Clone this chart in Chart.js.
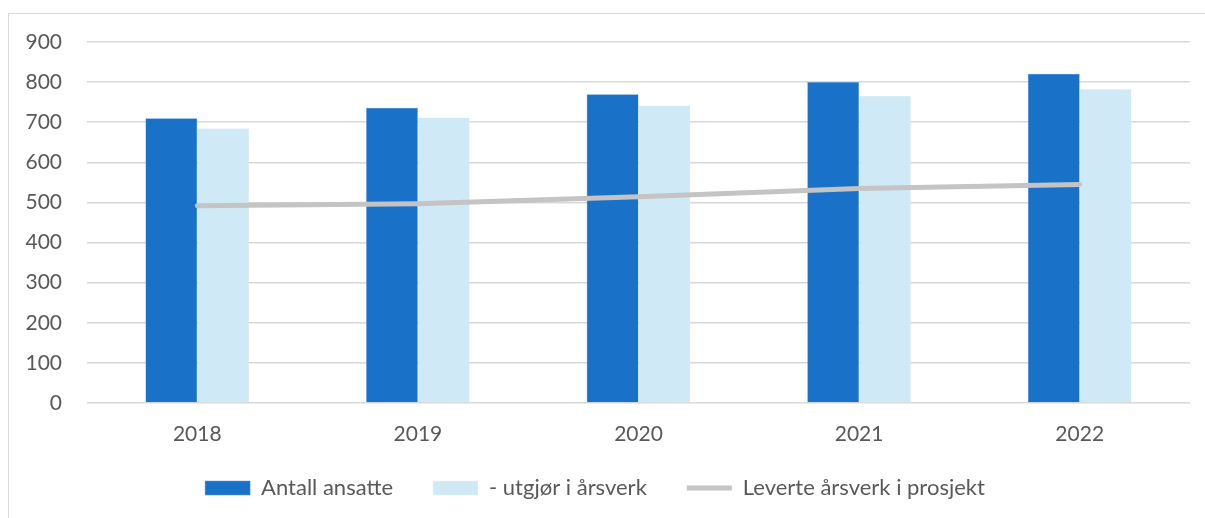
<!DOCTYPE html>
<html>
<head>
<meta charset="utf-8">
<script src="https://cdn.jsdelivr.net/npm/chart.js@4.4.0/dist/chart.umd.min.js"></script>
<style>
  body { margin: 0; background: #fff; overflow: hidden; }
  #wrap { position: relative; width: 1205px; height: 518px; }
  #frame { position: absolute; left: 8px; top: 13px; width: 1300px; height: 600px; border: 1.5px solid #d9d9d9; box-sizing: border-box; }
  canvas { position: absolute; left: 0; top: 0; }
</style>
</head>
<body>
<div id="wrap">
  <div id="frame"></div>
  <canvas id="chart" width="1205" height="518"></canvas>
</div>
<script>
var years = ['2018', '2019', '2020', '2021', '2022'];
var antall_ansatte = [710, 736, 770, 800, 821];
var utgjor_arsverk = [685, 712, 742, 766, 783];
var leverte_arsverk = [492, 497, 514, 535, 545];
var y_ticks = [0, 100, 200, 300, 400, 500, 600, 700, 800, 900];

var colors = {
  dark: '#1a71c8',
  light: '#cfe9f6',
  grey: '#c4c4c4',
  text: '#595959',
  grid: '#d9d9d9'
};

Chart.defaults.font.family = 'Lato, "Open Sans", sans-serif';
Chart.defaults.font.size = 21;
Chart.defaults.color = colors.text;

// the x axis is kept short so the legend sits close; let its labels draw past it
var unclipXLabels = {
  id: 'unclipXLabels',
  afterLayout: function(chart) {
    chart.scales.x.bottom = chart.scales.x.top + 50;
  }
};

var ctx = document.getElementById('chart').getContext('2d');
var chart = new Chart(ctx, {
  type: 'bar',
  data: {
    labels: years,
    datasets: [
      {
        label: 'Antall ansatte',
        data: antall_ansatte,
        backgroundColor: colors.dark,
        borderColor: '#5b9ae0',
        borderWidth: 0.5,
        pointStyle: 'rect',
        order: 2
      },
      {
        label: '- utgjør i årsverk',
        data: utgjor_arsverk,
        backgroundColor: colors.light,
        borderColor: '#e6f4fb',
        borderWidth: 0.5,
        pointStyle: 'rect',
        order: 2
      },
      {
        type: 'line',
        label: 'Leverte årsverk i prosjekt',
        data: leverte_arsverk,
        borderColor: colors.grey,
        backgroundColor: colors.grey,
        borderWidth: 5,
        borderCapStyle: 'round',
        pointRadius: 0,
        pointHoverRadius: 0,
        pointStyle: 'line',
        tension: 0,
        order: 0
      }
    ]
  },
  plugins: [unclipXLabels],
  options: {
    responsive: false,
    animation: false,
    layout: { padding: { left: 0, right: 15, top: 42, bottom: 9 } },
    datasets: {
      bar: { categoryPercentage: 0.47, barPercentage: 1 }
    },
    scales: {
      x: {
        grid: { display: false },
        border: { display: false },
        ticks: { padding: 11, color: colors.text },
        afterFit: function(axis) { axis.height = 34; }
      },
      y: {
        min: 0,
        max: 900,
        afterBuildTicks: function(axis) {
          axis.ticks = y_ticks.map(function(v) { return { value: v }; });
        },
        afterFit: function(axis) { axis.width = 87; },
        grid: { color: colors.grid, lineWidth: 1.5, drawTicks: false },
        border: { display: false },
        ticks: { padding: 25, color: colors.text }
      }
    },
    plugins: {
      tooltip: { enabled: false },
      legend: {
        position: 'bottom',
        labels: {
          usePointStyle: true,
          pointStyleWidth: 45,
          boxHeight: 14,
          padding: 40,
          font: { size: 22 },
          color: colors.text,
          sort: function(a, b) { return a.datasetIndex - b.datasetIndex; }
        }
      }
    }
  }
});
</script>
</body>
</html>
